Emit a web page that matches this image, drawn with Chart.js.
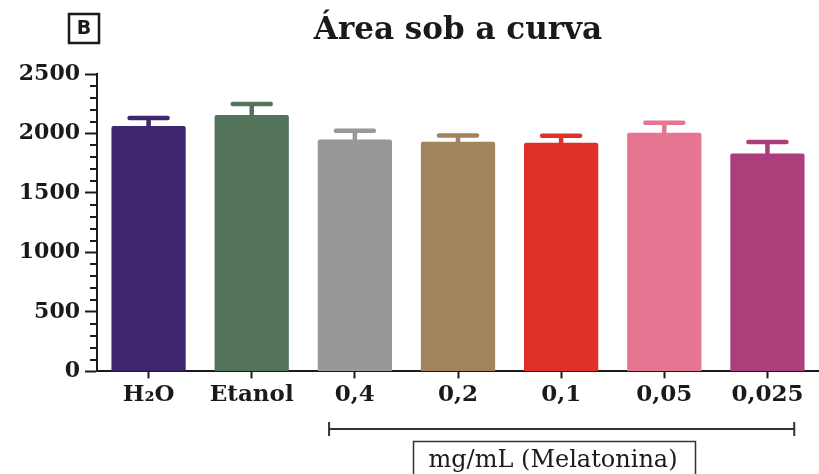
<!DOCTYPE html>
<html>
<head>
<meta charset="utf-8">
<script src="https://cdn.jsdelivr.net/npm/chart.js@4"></script>
<style>
  html, body { margin: 0; padding: 0; background: #fff; }
  #wrap { width: 819px; height: 474px; }
</style>
</head>
<body>
<div id="wrap"><canvas id="aucChart" width="819" height="474"></canvas></div>
<script>
// ==============================
// DATA
// ==============================
const categories = ["H₂O", "Etanol", "0,4", "0,2", "0,1", "0,05", "0,025"];
const means = [2062, 2155, 1950, 1930, 1922, 2006, 1832];
const sems = [68, 92, 73, 54, 59, 84, 96];
const barColors = ["#40266f", "#52735a", "#989898", "#a2835e", "#e0302a", "#e67592", "#ab3f7b"];
const yTicks = [0, 500, 1000, 1500, 2000, 2500];

const SERIF = "'DejaVu Serif', 'Liberation Serif', serif";
const INK = "#1a1a1a";

// ==============================
// EXTRAS: error bars, minor ticks, title, bracket
// ==============================
const extras = {
    id: "extras",
    afterDatasetsDraw(chart) {
        const { ctx, scales: { y } } = chart;
        const meta = chart.getDatasetMeta(0);
        ctx.save();
        ctx.lineCap = "round";
        meta.data.forEach((bar, i) => {
            const top = y.getPixelForValue(means[i] + sems[i]);
            const base = y.getPixelForValue(means[i]);
            ctx.strokeStyle = barColors[i];
            ctx.lineWidth = 4.5;
            ctx.beginPath();
            ctx.moveTo(bar.x, base);
            ctx.lineTo(bar.x, top);
            ctx.moveTo(bar.x - 19, top);
            ctx.lineTo(bar.x + 19, top);
            ctx.stroke();
        });
        ctx.restore();
    },
    afterDraw(chart) {
        const { ctx, chartArea, scales: { x, y } } = chart;
        ctx.save();

        // minor y ticks
        ctx.strokeStyle = INK;
        ctx.lineWidth = 2;
        for (let v = 100; v < 2500; v += 100) {
            if (v % 500 === 0) continue;
            const py = Math.round(y.getPixelForValue(v));
            ctx.beginPath();
            ctx.moveTo(chartArea.left - 7, py);
            ctx.lineTo(chartArea.left, py);
            ctx.stroke();
        }

        // title
        ctx.fillStyle = INK;
        ctx.font = "bold 31px " + SERIF;
        ctx.textAlign = "center";
        ctx.textBaseline = "middle";
        ctx.fillText("Área sob a curva", (chartArea.left + chartArea.right) / 2, 31);

        // panel letter
        ctx.lineWidth = 2.5;
        ctx.strokeRect(69, 14, 30, 29);
        ctx.font = "bold 19px 'DejaVu Sans', sans-serif";
        ctx.fillText("B", 84, 29);

        // bracket under melatonina doses
        const step = x.getPixelForValue(1) - x.getPixelForValue(0);
        const left = x.getPixelForValue(2) - step * 0.25;
        const right = x.getPixelForValue(6) + step * 0.26;
        const by = 429;
        ctx.strokeStyle = "#333";
        ctx.lineWidth = 2;
        ctx.beginPath();
        ctx.moveTo(left, by); ctx.lineTo(right, by);
        ctx.moveTo(left, by - 7); ctx.lineTo(left, by + 7);
        ctx.moveTo(right, by - 7); ctx.lineTo(right, by + 7);
        ctx.stroke();

        // label box
        ctx.lineWidth = 1.5;
        ctx.strokeRect(413.5, 441.5, 282, 40);
        ctx.font = "24px " + SERIF;
        ctx.fillStyle = INK;
        ctx.fillText("mg/mL (Melatonina)", 553, 461);

        ctx.restore();
    }
};

// ==============================
// CHART
// ==============================
const ctx = document.getElementById("aucChart").getContext("2d");

new Chart(ctx, {
    type: "bar",
    data: {
        labels: categories,
        datasets: [{
            label: "Área sob a curva",
            data: means,
            backgroundColor: barColors,
            borderWidth: 0,
            borderRadius: 2,
            borderSkipped: "bottom",
            barPercentage: 0.72,
            categoryPercentage: 1
        }]
    },
    options: {
        responsive: false,
        animation: false,
        layout: { padding: { left: 14, right: 0, top: 74, bottom: 62 } },
        plugins: {
            legend: { display: false },
            title: { display: false },
            tooltip: { enabled: false }
        },
        scales: {
            x: {
                border: { color: INK, width: 2 },
                grid: {
                    offset: false,
                    drawOnChartArea: false,
                    tickLength: 7,
                    tickWidth: 2,
                    color: INK
                },
                ticks: {
                    color: INK,
                    padding: 3,
                    maxRotation: 0,
                    font: { family: SERIF, size: 23, weight: "bold" }
                }
            },
            y: {
                min: 0,
                max: 2500,
                afterFit(scale) { scale.width = 83; },
                border: { color: INK, width: 2 },
                grid: {
                    drawOnChartArea: false,
                    tickLength: 12,
                    tickWidth: 2,
                    color: INK
                },
                afterBuildTicks(scale) {
                    scale.ticks = yTicks.map(v => ({ value: v }));
                },
                ticks: {
                    color: INK,
                    padding: 5,
                    callback: v => String(v),
                    font: { family: SERIF, size: 22, weight: "bold" }
                }
            }
        }
    },
    plugins: [extras]
});
</script>
</body>
</html>
